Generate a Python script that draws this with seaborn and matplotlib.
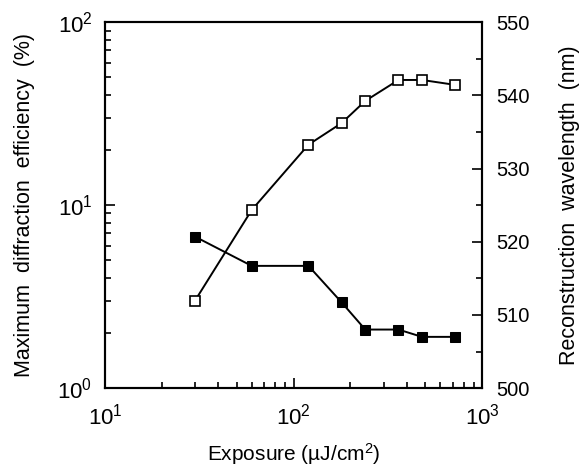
import matplotlib
matplotlib.use("Agg")
import matplotlib.pyplot as plt
import seaborn as sns

# exposure (uJ/cm2)
exposure = [30, 60, 120, 180, 240, 360, 480, 720]
# max diffraction efficiency (%) - open squares, left axis
efficiency = [3.0, 9.4, 21.4, 28.1, 37.1, 48.3, 48.3, 45.4]
# reconstruction wavelength (nm) - filled squares, right axis
wavelength = [520.7, 516.7, 516.7, 511.7, 508.0, 508.0, 507.0, 507.0]

sns.set_style("ticks", {"axes.edgecolor": "black", "text.color": "black",
                        "axes.labelcolor": "black", "xtick.color": "black",
                        "ytick.color": "black"})
plt.rcParams["font.family"] = ["Liberation Sans", "DejaVu Sans"]
plt.rcParams["mathtext.fontset"] = "custom"
plt.rcParams["mathtext.rm"] = "Liberation Sans"
plt.rcParams["mathtext.it"] = "Liberation Sans:italic"

fig = plt.figure(figsize=(5.83, 4.71), dpi=100)
ax1 = fig.add_axes([0.180, 0.176, 0.647, 0.777])

sns.lineplot(x=exposure, y=efficiency, ax=ax1, color="black", linewidth=1.4,
             marker="s", markersize=7.5, markerfacecolor="white",
             markeredgecolor="black", markeredgewidth=1.2)
ax1.set_xscale("log")
ax1.set_yscale("log")
ax1.set_xlim(10, 1000)
ax1.set_ylim(1, 100)
ax1.set_xlabel("Exposure (\u00b5J/cm$^2$)", fontsize=15)
ax1.set_ylabel("Maximum  diffraction  efficiency  (%)", fontsize=15.5)
ax1.xaxis.set_label_coords(0.5, -0.145)
ax1.yaxis.set_label_coords(-0.185, 0.5)

ax2 = ax1.twinx()
sns.lineplot(x=exposure, y=wavelength, ax=ax2, color="black", linewidth=1.4,
             marker="s", markersize=7.5, markerfacecolor="black",
             markeredgecolor="black")
ax2.set_ylim(500, 550)
ax2.set_yticks([500, 510, 520, 530, 540, 550])
ax2.set_yticks([505, 515, 525, 535, 545], minor=True)
ax2.set_ylabel("Reconstruction  wavelength  (nm)", fontsize=15.5)
ax2.yaxis.set_label_coords(1.205, 0.5)

for ax in (ax1, ax2):
    ax.tick_params(which="both", direction="in", width=1.2, colors="black")
    ax.tick_params(which="major", length=7)
    ax.tick_params(which="minor", length=4)
    for s in ax.spines.values():
        s.set_linewidth(1.5)
        s.set_visible(True)
        s.set_color("black")
ax1.tick_params(axis="x", which="both", top=False, pad=11, labelsize=16)
ax1.tick_params(axis="y", which="both", right=False, pad=9, labelsize=16)
ax2.tick_params(axis="y", which="both", pad=10, labelsize=14.5)

fig.savefig("out.png", dpi=100)
